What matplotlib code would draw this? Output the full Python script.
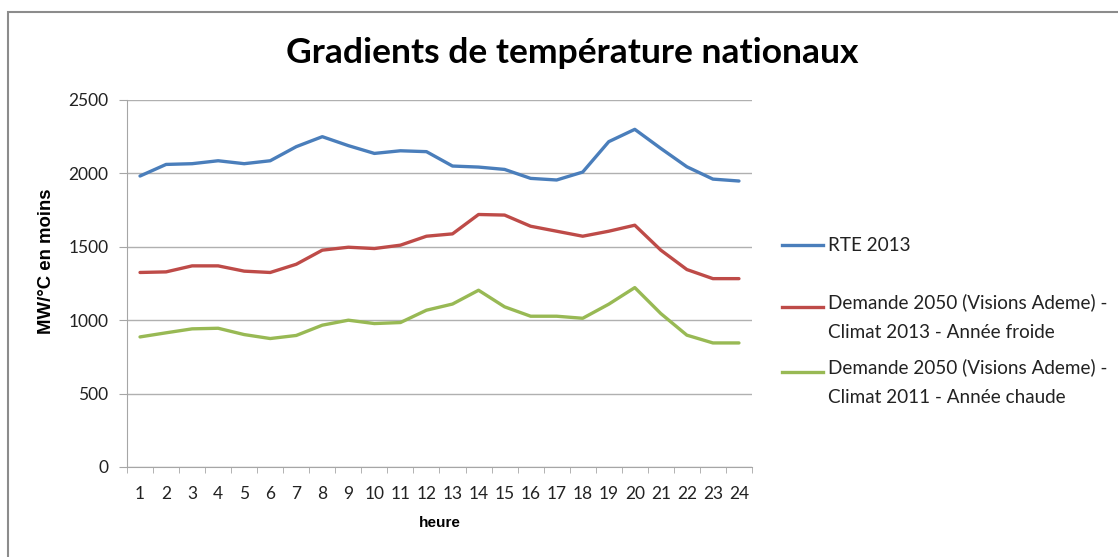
import matplotlib
matplotlib.use('Agg')
import matplotlib.pyplot as plt
from matplotlib.patches import Rectangle

heures = list(range(1, 25))

rte_2013 = [1982, 2061, 2066, 2086, 2066, 2086, 2182, 2250, 2189, 2136, 2154, 2148,
            2050, 2043, 2027, 1966, 1955, 2009, 2216, 2300, 2170, 2045, 1961, 1948]
demande_froide = [1325, 1329, 1370, 1370, 1334, 1325, 1381, 1477, 1497, 1488, 1511, 1572,
                  1588, 1720, 1716, 1640, 1606, 1572, 1606, 1647, 1477, 1345, 1283, 1283]
demande_chaude = [886, 914, 941, 945, 902, 875, 896, 966, 1000, 977, 984, 1068,
                  1110, 1204, 1091, 1027, 1027, 1013, 1109, 1222, 1045, 898, 845, 845]

labels = ['RTE 2013',
          'Demande 2050 (Visions Ademe) -\nClimat 2013 - Année froide',
          'Demande 2050 (Visions Ademe) -\nClimat 2011 - Année chaude']
couleurs = ['#4A7EBB', '#BE4B48', '#98B954']
y_ticks = [0, 500, 1000, 1500, 2000, 2500]

plt.rcParams['font.family'] = ['Lato', 'DejaVu Sans']

fig = plt.figure(figsize=(11.18, 5.57), dpi=100)
ax = fig.add_axes([0.1136, 0.1616, 0.559, 0.6589])

for serie, lab, c in zip([rte_2013, demande_froide, demande_chaude], labels, couleurs):
    ax.plot(heures, serie, color=c, lw=2.4, label=lab, solid_capstyle='round')

# axes façon Excel
ax.set_xlim(0.5, 24.5)
ax.set_ylim(0, 2500)
ax.set_yticks(y_ticks)
ax.set_xticks(heures)
ax.set_xticks([h - 0.5 for h in heures] + [24.5], minor=True)
ax.tick_params(axis='x', which='major', length=0, labelsize=12.5, pad=14, colors='#222222')
ax.tick_params(axis='x', which='minor', length=4.5, color='#A6A6A6', direction='out')
ax.tick_params(axis='y', length=5.5, color='#A6A6A6', labelsize=12.5, pad=8, labelcolor='#222222')
ax.grid(axis='y', color='#B0B0B0', lw=1)
ax.set_axisbelow(True)
for s in ['top', 'right']:
    ax.spines[s].set_visible(False)
for s in ['left', 'bottom']:
    ax.spines[s].set_color('#A6A6A6')

ax.set_xlabel('heure', fontsize=11, fontweight='bold', family='Liberation Sans', labelpad=10)
ax.set_ylabel('MW/°C en moins', fontsize=13.4, fontweight='bold', family='Liberation Sans')
ax.yaxis.set_label_coords(-0.115, 0.56)

fig.text(0.512, 0.905, 'Gradients de température nationaux', ha='center', va='center',
         fontsize=25.5, fontweight='bold')

# légende à droite, trait aligné sur la première ligne comme dans Excel
leg_y = [0.605, 0.436, 0.259]
pas_ligne = 0.068
for lab, c, y in zip(labels, couleurs, leg_y):
    n = lab.count('\n')
    ax.plot([1.048, 1.114], [y, y], color=c, lw=2.4, transform=ax.transAxes, clip_on=False)
    ax.text(1.1216, y - 0.017 - pas_ligne * n, lab, transform=ax.transAxes, va='baseline',
            ha='left', fontsize=13.6, color='#222222', linespacing=1.9)

# cadre du graphique
fig.patches.append(Rectangle((8 / 1118, -0.1), 1.2, 0.1 + 1 - 12 / 557, transform=fig.transFigure,
                             fill=False, edgecolor='#8C8C8C', lw=1.5))

fig.savefig('out.png', dpi=100)
